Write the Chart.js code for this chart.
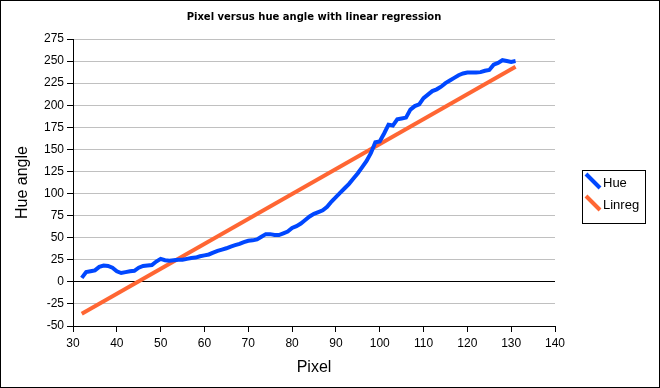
<!DOCTYPE html>
<html>
<head>
<meta charset="utf-8">
<script src="https://cdn.jsdelivr.net/npm/chart.js@4.4.1/dist/chart.umd.min.js"></script>
<style>
    html, body { margin: 0; padding: 0; background: #fff; }
    canvas { display: block; }
</style>
</head>
<body>
<canvas id="hueChart" width="660" height="388"></canvas>
<script>
// Data
const chartTitle = 'Pixel versus hue angle with linear regression';

const hueX = [
    32, 33, 34, 35, 36, 37, 38, 39, 40, 41, 42, 43, 44, 45, 46, 47, 48, 49, 50, 51,
    52, 53, 54, 55, 56, 57, 58, 59, 60, 61, 62, 63, 64, 65, 66, 67, 68, 69, 70, 71,
    72, 73, 74, 75, 76, 77, 78, 79, 80, 81, 82, 83, 84, 85, 86, 87, 88, 89, 90, 91,
    92, 93, 94, 95, 96, 97, 98, 99, 100, 101, 102, 103, 104, 105, 106, 107, 108, 109, 110, 111,
    112, 113, 114, 115, 116, 117, 118, 119, 120, 121, 122, 123, 124, 125, 126, 127, 128, 129, 130, 131
];
const hueY = [
    4.5, 11, 12, 13, 17, 18.5, 18, 16, 12, 10, 11, 12, 12.5, 16, 18, 18.5, 19, 23, 26, 24.5,
    24, 24.5, 25, 25, 26, 27, 27.5, 29, 30, 31, 33, 35, 36.5, 38, 40, 41.5, 43, 45, 46.5, 47,
    48, 51, 54, 54, 53, 53, 55, 57, 61, 63, 66, 70, 74, 77, 79, 81, 85, 91, 96, 101,
    106, 111, 117, 123, 130, 137, 146, 158, 159, 168, 178, 177, 184, 185, 186, 195, 199, 201, 208, 212,
    216, 218, 221, 225, 228, 231, 234, 236, 237, 237, 237, 237.5, 239, 240, 246, 248, 251, 250, 249, 250
];

const linregX = [32, 131];
const linregY = [-36, 243.5];

const seriesLabels = ['Hue', 'Linreg'];
const seriesColors = ['#0047ff', '#ff6633'];

const xMin = 30, xMax = 140, xStep = 10;
const yMin = -50, yMax = 275, yStep = 25;

function toPoints(xs, ys) {
    return xs.map((x, i) => ({ x: x, y: ys[i] }));
}

// Title, boxed legend and outer frame drawn after the chart
const excelFrame = {
    id: 'excelFrame',
    afterDraw(chart) {
        const ctx = chart.ctx;
        const area = chart.chartArea;
        ctx.save();

        // title centred over the plot area
        ctx.fillStyle = '#000';
        ctx.font = 'bold 10px "DejaVu Sans"';
        ctx.textAlign = 'center';
        ctx.textBaseline = 'alphabetic';
        ctx.fillText(chartTitle, (area.left + area.right) / 2, 20);

        // legend box
        ctx.strokeStyle = '#000';
        ctx.lineWidth = 1;
        ctx.strokeRect(582.5, 170.5, 63, 53);
        ctx.font = '13px "Liberation Sans"';
        ctx.textAlign = 'left';
        ctx.textBaseline = 'middle';
        chart.data.datasets.forEach((ds, i) => {
            const y0 = 174 + i * 22;
            ctx.strokeStyle = ds.borderColor;
            ctx.lineWidth = 4;
            ctx.beginPath();
            ctx.moveTo(586, y0);
            ctx.lineTo(600, y0 + 14);
            ctx.stroke();
            ctx.fillStyle = '#000';
            ctx.fillText(ds.label, 603, y0 + 9);
        });

        // outer border
        ctx.strokeStyle = '#000';
        ctx.lineWidth = 1;
        ctx.strokeRect(0.5, 0.5, chart.width - 1, chart.height - 1);
        ctx.restore();
    }
};

const ctx = document.getElementById('hueChart').getContext('2d');
new Chart(ctx, {
    type: 'line',
    data: {
        datasets: [
            {
                label: seriesLabels[0],
                data: toPoints(hueX, hueY),
                borderColor: seriesColors[0],
                borderWidth: 4,
                pointRadius: 0,
                tension: 0
            },
            {
                label: seriesLabels[1],
                data: toPoints(linregX, linregY),
                borderColor: seriesColors[1],
                borderWidth: 4,
                pointRadius: 0,
                tension: 0
            }
        ]
    },
    options: {
        responsive: false,
        animation: false,
        devicePixelRatio: 1,
        layout: { padding: { top: 39, right: 105, bottom: 0, left: 0 } },
        plugins: {
            legend: { display: false },
            title: { display: false },
            tooltip: { enabled: false }
        },
        scales: {
            x: {
                type: 'linear',
                min: xMin,
                max: xMax,
                afterFit: scale => { scale.height = 62; },
                ticks: {
                    stepSize: xStep,
                    color: '#000',
                    padding: 4,
                    font: { family: 'Liberation Sans', size: 12 }
                },
                grid: {
                    drawOnChartArea: false,
                    tickLength: 6,
                    color: '#000'
                },
                border: { color: '#000', width: 1 },
                title: {
                    display: true,
                    text: 'Pixel',
                    color: '#000',
                    font: { family: 'Liberation Sans', size: 16 },
                    padding: { top: 0, bottom: 11 }
                }
            },
            y: {
                min: yMin,
                max: yMax,
                afterFit: scale => { scale.width = 73; },
                ticks: {
                    stepSize: yStep,
                    color: '#000',
                    padding: 3,
                    font: { family: 'Liberation Sans', size: 12 }
                },
                grid: {
                    tickLength: 6,
                    tickColor: '#000',
                    color: c => (c.tick && (c.tick.value === 0 || c.tick.value === yMin)) ? '#000' : '#c0c0c0'
                },
                border: { color: '#000', width: 1 },
                title: {
                    display: true,
                    text: 'Hue angle',
                    color: '#000',
                    font: { family: 'Liberation Sans', size: 16 },
                    padding: { top: 13, bottom: 0 }
                }
            }
        }
    },
    plugins: [excelFrame]
});
</script>
</body>
</html>
